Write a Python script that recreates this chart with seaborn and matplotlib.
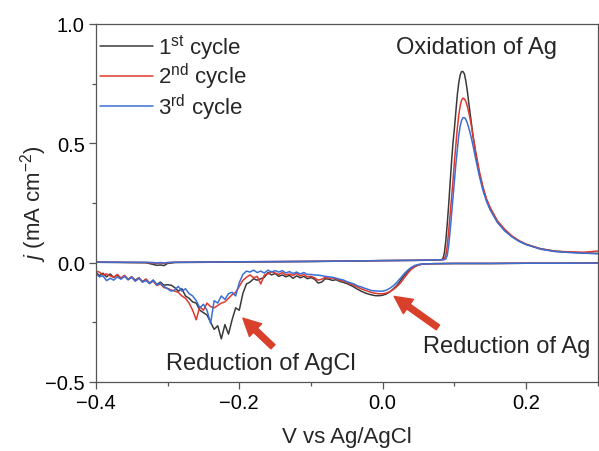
import numpy as np
import pandas as pd
import matplotlib
matplotlib.use("Agg")
import matplotlib.pyplot as plt
import seaborn as sns
from matplotlib.ticker import MultipleLocator

# ---------------- data ----------------
cycles = ["1$^{\\rm st}$ cycle", "2$^{\\rm nd}$ cycle", "3$^{\\rm rd}$ cycle"]
colors = ["#3a3a3a", "#e0382e", "#3b6fd4"]

# forward (anodic) scan
v_fwd = [-0.40, -0.36, -0.33, -0.32, -0.315, -0.31, -0.305, -0.30, -0.29, -0.25,
         -0.20, -0.15, -0.10, -0.05, 0.00, 0.04, 0.080,
         0.084, 0.086, 0.088, 0.090, 0.092, 0.094, 0.096, 0.098, 0.100, 0.102,
         0.104, 0.106, 0.108, 0.110, 0.112, 0.114, 0.116, 0.118, 0.120,
         0.123, 0.126, 0.130, 0.135, 0.140, 0.145, 0.150,
         0.160, 0.170, 0.180, 0.190, 0.200,
         0.220, 0.240, 0.260, 0.280, 0.300, 0.305]
j_fwd_1 = [0.001, 0.0, -0.001, -0.008, -0.012, -0.010, -0.013, -0.004, 0.0, 0.001,
           0.002, 0.003, 0.004, 0.006, 0.008, 0.009, 0.010,
           0.015, 0.04, 0.09, 0.16, 0.24, 0.33, 0.42, 0.50, 0.56, 0.63,
           0.70, 0.75, 0.785, 0.80, 0.80, 0.79, 0.76, 0.72, 0.67,
           0.60, 0.53, 0.45, 0.37, 0.31, 0.26, 0.225,
           0.17, 0.135, 0.11, 0.09, 0.076,
           0.058, 0.048, 0.043, 0.040, 0.038, 0.038]
j_fwd_2 = [0.002, 0.001, 0.0, -0.002, -0.004, -0.002, -0.004, -0.001, 0.001, 0.002,
           0.003, 0.004, 0.005, 0.006, 0.008, 0.009, 0.010,
           0.012, 0.015, 0.03, 0.07, 0.13, 0.20, 0.27, 0.34, 0.42, 0.49,
           0.56, 0.615, 0.655, 0.68, 0.689, 0.685, 0.675, 0.655, 0.63,
           0.585, 0.53, 0.46, 0.38, 0.315, 0.265, 0.23,
           0.175, 0.14, 0.112, 0.092, 0.077,
           0.057, 0.047, 0.045, 0.043, 0.048, 0.048]
j_fwd_3 = [0.002, 0.001, 0.001, 0.0, -0.002, 0.0, -0.002, 0.0, 0.001, 0.002,
           0.003, 0.004, 0.005, 0.006, 0.008, 0.009, 0.011,
           0.012, 0.012, 0.015, 0.03, 0.07, 0.13, 0.20, 0.27, 0.34, 0.41,
           0.47, 0.53, 0.57, 0.595, 0.607, 0.607, 0.60, 0.585, 0.565,
           0.53, 0.49, 0.43, 0.36, 0.30, 0.255, 0.22,
           0.168, 0.133, 0.108, 0.089, 0.075,
           0.056, 0.046, 0.042, 0.039, 0.036, 0.036]

# reverse (cathodic) scan
v_rev = [0.305, 0.25, 0.20, 0.15, 0.10, 0.07, 0.06,
         0.055, 0.050, 0.045, 0.040, 0.035, 0.030, 0.025, 0.020, 0.015, 0.010, 0.005, 0.000,
         -0.005, -0.010, -0.015, -0.020, -0.025, -0.030, -0.035, -0.040, -0.045, -0.050,
         -0.055, -0.060, -0.065, -0.070, -0.075, -0.080, -0.085, -0.090, -0.095, -0.100,
         -0.105, -0.110, -0.115, -0.120, -0.125, -0.130, -0.135, -0.140, -0.145, -0.150,
         -0.155, -0.160, -0.165, -0.170, -0.175, -0.180, -0.185, -0.190, -0.195, -0.200,
         -0.205, -0.210, -0.215, -0.220, -0.225, -0.230, -0.235, -0.240, -0.245, -0.250,
         -0.255, -0.260, -0.265, -0.270, -0.275, -0.280, -0.285, -0.290, -0.295, -0.300,
         -0.305, -0.310, -0.315, -0.320, -0.325, -0.330, -0.335, -0.340, -0.345, -0.350,
         -0.355, -0.360, -0.365, -0.370, -0.375, -0.380, -0.385, -0.390, -0.395, -0.400]
j_rev_1 = [-0.002, -0.003, -0.003, -0.004, -0.004, -0.005, -0.006,
           -0.007, -0.010, -0.016, -0.025, -0.038, -0.055, -0.075, -0.095, -0.110, -0.123, -0.132, -0.137,
           -0.139, -0.139, -0.136, -0.132, -0.127, -0.120, -0.112, -0.103, -0.095, -0.088,
           -0.083, -0.079, -0.072, -0.075, -0.070, -0.068, -0.082, -0.086, -0.070, -0.063,
           -0.068, -0.058, -0.064, -0.056, -0.066, -0.054, -0.060, -0.052, -0.058, -0.046,
           -0.052, -0.042, -0.062, -0.068, -0.074, -0.068, -0.082, -0.090, -0.130, -0.200,
           -0.190, -0.240, -0.300, -0.260, -0.320, -0.265, -0.280, -0.250, -0.220, -0.210,
           -0.200, -0.170, -0.165, -0.150, -0.140, -0.110, -0.120, -0.105, -0.095, -0.093,
           -0.095, -0.082, -0.092, -0.074, -0.086, -0.070, -0.080, -0.064, -0.074, -0.060,
           -0.072, -0.055, -0.066, -0.052, -0.063, -0.048, -0.060, -0.045, -0.055, -0.040]
j_rev_2 = [-0.002, -0.003, -0.003, -0.004, -0.004, -0.005, -0.006,
           -0.007, -0.010, -0.018, -0.028, -0.045, -0.065, -0.085, -0.100, -0.113, -0.122, -0.128, -0.131,
           -0.131, -0.129, -0.126, -0.121, -0.116, -0.110, -0.103, -0.096, -0.090, -0.082,
           -0.077, -0.075, -0.068, -0.065, -0.066, -0.062, -0.070, -0.074, -0.064, -0.058,
           -0.060, -0.050, -0.056, -0.046, -0.054, -0.048, -0.052, -0.042, -0.050, -0.044,
           -0.038, -0.048, -0.052, -0.090, -0.058, -0.064, -0.052, -0.062, -0.075, -0.100,
           -0.125, -0.135, -0.150, -0.165, -0.170, -0.180, -0.190, -0.185, -0.170, -0.200,
           -0.185, -0.240, -0.200, -0.170, -0.150, -0.140, -0.125, -0.120, -0.115, -0.108,
           -0.105, -0.090, -0.096, -0.078, -0.088, -0.070, -0.082, -0.064, -0.078, -0.060,
           -0.070, -0.054, -0.066, -0.050, -0.062, -0.056, -0.048, -0.052, -0.040, -0.036]
j_rev_3 = [-0.002, -0.003, -0.003, -0.004, -0.004, -0.005, -0.006,
           -0.006, -0.008, -0.012, -0.020, -0.032, -0.047, -0.065, -0.082, -0.097, -0.108, -0.116, -0.120,
           -0.120, -0.119, -0.118, -0.113, -0.108, -0.102, -0.098, -0.090, -0.085, -0.080,
           -0.073, -0.070, -0.066, -0.062, -0.060, -0.058, -0.055, -0.053, -0.052, -0.050,
           -0.050, -0.042, -0.048, -0.040, -0.046, -0.038, -0.044, -0.034, -0.040, -0.034,
           -0.040, -0.032, -0.044, -0.036, -0.042, -0.032, -0.040, -0.036, -0.050, -0.085,
           -0.140, -0.125, -0.130, -0.155, -0.140, -0.170, -0.160, -0.255, -0.200, -0.175,
           -0.190, -0.160, -0.140, -0.130, -0.110, -0.120, -0.100, -0.115, -0.120, -0.110,
           -0.100, -0.086, -0.094, -0.074, -0.088, -0.076, -0.082, -0.066, -0.078, -0.062,
           -0.072, -0.058, -0.070, -0.060, -0.074, -0.066, -0.076, -0.056, -0.060, -0.046]

x_ticks = [-0.4, -0.2, 0.0, 0.2]
y_ticks = [-0.5, 0.0, 0.5, 1.0]

# ---------------- build table ----------------
frames = []
for name, jf, jr in zip(cycles, [j_fwd_1, j_fwd_2, j_fwd_3], [j_rev_1, j_rev_2, j_rev_3]):
    frames.append(pd.DataFrame({"V": list(v_fwd) + list(v_rev),
                                "j": list(jf) + list(jr),
                                "cycle": name}))
df = pd.concat(frames, ignore_index=True)

# ---------------- style ----------------
sns.set_theme(style="ticks")
plt.rcParams["font.family"] = ["Liberation Sans", "DejaVu Sans"]
plt.rcParams["mathtext.fontset"] = "custom"
plt.rcParams["mathtext.rm"] = "Liberation Sans"
plt.rcParams["mathtext.it"] = "Liberation Sans:italic"
plt.rcParams["mathtext.bf"] = "Liberation Sans:bold"

fig = plt.figure(figsize=(5.99, 4.52), dpi=100)
ax = fig.add_axes([0.160, 0.153, 0.838, 0.792])

sns.lineplot(data=df, x="V", y="j", hue="cycle", palette=colors, sort=False,
             estimator=None, linewidth=1.1, ax=ax)

ax.set_xlim(-0.4, 0.3)
ax.set_ylim(-0.5, 1.0)
ax.set_xticks(x_ticks)
ax.set_yticks(y_ticks)
ax.xaxis.set_minor_locator(MultipleLocator(0.1))
ax.yaxis.set_minor_locator(MultipleLocator(0.25))
ax.tick_params(which="major", direction="out", length=5, width=0.9, labelsize=14.5,
               pad=3, color="#555555", labelcolor="black", top=False, right=False)
ax.tick_params(which="minor", direction="out", length=3, width=0.9, color="#555555",
               top=False, right=False)
ax.set_xticklabels(["\u22120.4", "\u22120.2", "0.0", "0.2"])
ax.set_yticklabels(["\u22120.5", "0.0", "0.5", "1.0"])
for s in ax.spines.values():
    s.set_linewidth(0.9)
    s.set_color("#555555")

ax.set_xlabel("V vs Ag/AgCl", fontsize=16, labelpad=10)
ax.set_ylabel("$j$ (mA cm$^{-2}$)", fontsize=16, labelpad=-3)

leg = ax.legend(loc="upper left", frameon=False, fontsize=16, handlelength=2.35,
                handletextpad=0.25, labelspacing=0.02, borderaxespad=0.1,
                borderpad=0.1, bbox_to_anchor=(0.0, 0.99))
for h in leg.get_lines():
    h.set_linewidth(1.1)

arrow_color = "#d9402b"
ap = dict(arrowstyle="simple,head_width=0.9,head_length=0.9,tail_width=0.3",
          color=arrow_color, shrinkA=0, shrinkB=0)
ax.annotate("", xy=(-0.195, -0.233), xytext=(-0.153, -0.353),
            arrowprops=dict(ap, mutation_scale=14))
ax.annotate("", xy=(0.016, -0.142), xytext=(0.077, -0.272),
            arrowprops=dict(ap, mutation_scale=14))

ax.text(0.131, 0.904, "Oxidation of Ag", fontsize=17, ha="center", va="center")
ax.text(0.173, -0.349, "Reduction of Ag", fontsize=17, ha="center", va="center")
ax.text(-0.170, -0.420, "Reduction of AgCl", fontsize=17, ha="center", va="center")

fig.savefig("out.png", dpi=100)
